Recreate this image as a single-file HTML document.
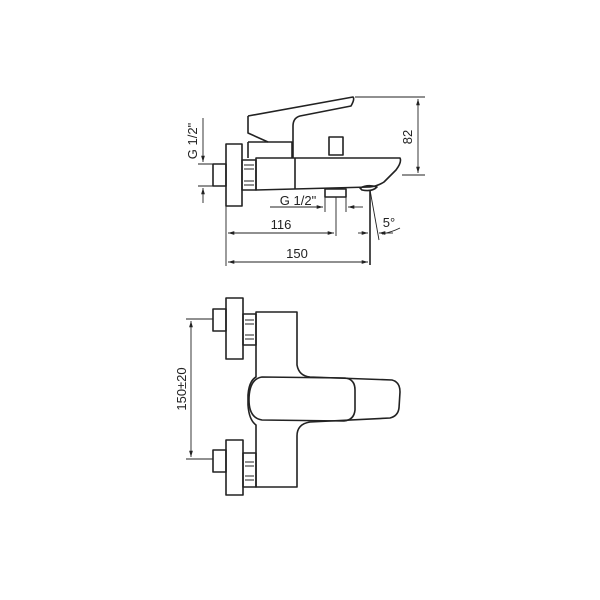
<!DOCTYPE html>
<html><head><style>
html,body{margin:0;padding:0;background:#fff;}
svg{display:block}
text{font-family:"Liberation Sans",sans-serif;fill:#222;font-size:13px}
</style></head><body>
<svg width="600" height="600" viewBox="0 0 600 600" xmlns="http://www.w3.org/2000/svg">
<defs>
<marker id="a" viewBox="0 0 10 10" refX="10" refY="5" markerWidth="7" markerHeight="7" orient="auto-start-reverse"><path d="M0,2 L10,5 L0,8 z" fill="#222"/></marker>
</defs>
<g fill="none" stroke="#222" stroke-width="1.6" stroke-linejoin="round">
<rect x="226" y="144" width="16" height="62"/>
<rect x="213" y="164" width="13" height="22"/>
<rect x="242" y="160" width="14" height="30"/>
<path d="M256,158 L400,158 Q402,162 396,170 L384,182 Q378,186 370,187 L256,190 Z"/>
<path d="M295,158 L295,189"/>
<path d="M248,142 L292,142 L292,158"/>
<path d="M248,116 L353,97 Q355,99 351,106 L300,116 Q293,118 293,126 L293,158"/>
<path d="M248,116 L248,133 L268,142"/>
<path d="M248,142 L248,158"/>
<rect x="329" y="137" width="14" height="18"/>
<rect x="325" y="189" width="21" height="8"/>
<path d="M360,188 Q368,184 377,187 Q372,192 362,190 Z"/>
<path d="M370,190 L370,265"/>
</g>
<g stroke="#222" stroke-width="1" fill="none">
<path d="M244,165 h10 M244,169 h10 M244,181 h10 M244,185 h10"/>
</g>
<g stroke="#222" stroke-width="0.9" fill="none">
<path d="M355,97 L425,97 M402,175 L425,175"/>
<path d="M418,99 L418,173" marker-start="url(#a)" marker-end="url(#a)"/>
<path d="M198,164 L213,164 M198,186 L213,186"/>
<path d="M203,118 L203,162" marker-end="url(#a)"/>
<path d="M203,203 L203,188" marker-end="url(#a)"/>
<path d="M325,197 L325,212 M346,197 L346,212"/>
<path d="M270,207 L323,207" marker-end="url(#a)"/>
<path d="M363,207 L348,207" marker-end="url(#a)"/>
<path d="M336,197 L336,236"/>
<path d="M226,206 L226,266"/>
<path d="M228,233 L334,233" marker-start="url(#a)" marker-end="url(#a)"/>
<path d="M228,262 L368,262" marker-start="url(#a)" marker-end="url(#a)"/>
<path d="M370,190 L379,240"/>
<path d="M358,233 L368,233" marker-end="url(#a)"/>
<path d="M393,233 L379,233" marker-end="url(#a)"/>
<path d="M382,234 Q392,232 400,228"/>
</g>
<text x="0" y="0" transform="translate(197,141) rotate(-90)" text-anchor="middle">G 1/2"</text>
<text x="0" y="0" transform="translate(412,137) rotate(-90)" text-anchor="middle">82</text>
<text x="298" y="205" text-anchor="middle">G 1/2"</text>
<text x="281" y="229" text-anchor="middle">116</text>
<text x="297" y="258" text-anchor="middle">150</text>
<text x="389" y="227" text-anchor="middle">5°</text>
<g fill="none" stroke="#222" stroke-width="1.6" stroke-linejoin="round">
<rect x="226" y="298" width="17" height="61"/>
<rect x="213" y="309" width="13" height="22"/>
<rect x="243" y="314" width="13" height="31"/>
<rect x="226" y="440" width="17" height="55"/>
<rect x="213" y="450" width="13" height="22"/>
<rect x="243" y="453" width="13" height="34"/>
<path d="M256,312 L297,312 L297,365 Q299,376 310,377 L392,380 Q400,382 400,392 L399,408 Q398,416 390,418 L310,422 Q297,424 297,436 L297,487 L256,487 L256,425 Q249,420 248,405 L248,395 Q249,381 256,377 Z"/>
<path d="M262,377 L345,378 Q355,379 355,390 L355,410 Q354,420 344,421 L262,420 Q249,418 249,400 Q249,379 262,377 Z"/>
</g>
<g stroke="#222" stroke-width="1">
<path d="M245,320 h9 M245,324 h9 M245,335 h9 M245,339 h9 M245,462 h9 M245,466 h9 M245,476 h9 M245,480 h9"/>
</g>
<g stroke="#222" stroke-width="0.9" fill="none">
<path d="M186,319 L213,319 M186,459 L213,459"/>
<path d="M191,321 L191,457" marker-start="url(#a)" marker-end="url(#a)"/>
</g>
<text x="0" y="0" transform="translate(186,389) rotate(-90)" text-anchor="middle">150±20</text>
</svg>
</body></html>
